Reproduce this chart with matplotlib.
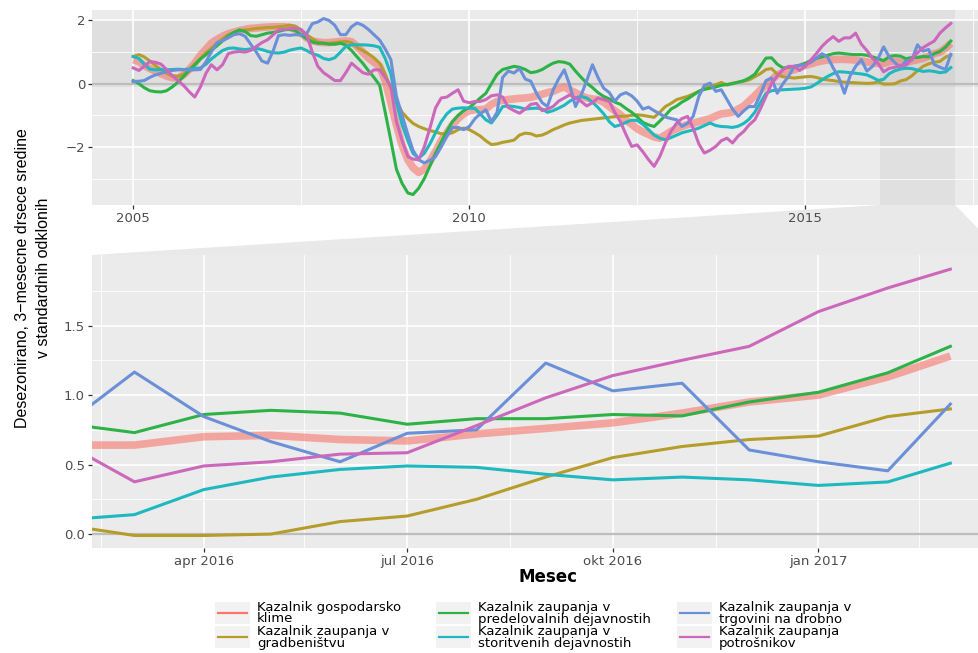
import matplotlib
matplotlib.use("Agg")
import matplotlib.pyplot as plt
import matplotlib.dates as mdates
import pandas as pd
from matplotlib import font_manager
from matplotlib.lines import Line2D
from matplotlib.patches import Polygon, Rectangle
from matplotlib.ticker import FixedLocator

# monthly, 3-month moving averages, in standard deviations (Jan 2005 - Mar 2017)
months = pd.date_range("2005-01-01", "2017-03-01", freq="MS")

series_labels = [
    "Kazalnik gospodarsko\nklime",
    "Kazalnik zaupanja v\ngradbeništvu",
    "Kazalnik zaupanja v\npredelovalnih dejavnostih",
    "Kazalnik zaupanja v\nstoritvenih dejavnostih",
    "Kazalnik zaupanja v\ntrgovini na drobno",
    "Kazalnik zaupanja\npotrošnikov",
]
series_colors = ["#F8766D", "#B59D2C", "#2DB247", "#1FB8BF", "#6B90D8", "#CC68BC"]

climate = [
    0.76, 0.70, 0.58, 0.48, 0.40, 0.32, 0.24, 0.19, 0.18, 0.28, 0.45, 0.65,
    0.90, 1.10, 1.28, 1.40, 1.50, 1.58, 1.63, 1.68, 1.72, 1.75, 1.76, 1.78,
    1.79, 1.80, 1.80, 1.80, 1.78, 1.72, 1.60, 1.45, 1.35, 1.32, 1.30, 1.30,
    1.32, 1.34, 1.35, 1.33, 1.18, 1.00, 0.82, 0.68, 0.55, 0.10, -0.60, -1.30,
    -1.95, -2.40, -2.65, -2.80, -2.70, -2.45, -2.15, -1.80, -1.55, -1.30, -1.10, -0.95,
    -0.85, -0.82, -0.82, -0.80, -0.65, -0.56, -0.52, -0.50, -0.48, -0.46, -0.45, -0.43,
    -0.38, -0.33, -0.28, -0.24, -0.16, -0.10, -0.20, -0.28, -0.38, -0.45, -0.48, -0.50,
    -0.58, -0.72, -0.85, -0.98, -1.15, -1.28, -1.42, -1.52, -1.60, -1.68, -1.72, -1.62,
    -1.50, -1.42, -1.35, -1.29, -1.25, -1.20, -1.15, -1.10, -1.02, -0.95, -0.93, -0.90,
    -0.80, -0.70, -0.55, -0.38, -0.20, -0.05, 0.12, 0.28, 0.36, 0.40, 0.44, 0.52,
    0.58, 0.63, 0.68, 0.72, 0.75, 0.76, 0.77, 0.77, 0.76, 0.75, 0.72, 0.69,
    0.66, 0.64, 0.64, 0.70, 0.71, 0.68, 0.67, 0.72, 0.76, 0.80, 0.87, 0.95,
    1.00, 1.13, 1.28,
]
construction = [
    0.86, 0.92, 0.85, 0.72, 0.58, 0.45, 0.33, 0.25, 0.23, 0.30, 0.45, 0.62,
    0.80, 0.98, 1.12, 1.28, 1.42, 1.55, 1.62, 1.68, 1.70, 1.72, 1.75, 1.76,
    1.78, 1.78, 1.80, 1.82, 1.85, 1.82, 1.70, 1.55, 1.42, 1.32, 1.28, 1.28,
    1.30, 1.32, 1.34, 1.30, 1.15, 1.05, 0.95, 0.82, 0.65, 0.30, -0.15, -0.55,
    -0.90, -1.10, -1.25, -1.35, -1.42, -1.48, -1.52, -1.58, -1.58, -1.55, -1.45, -1.40,
    -1.45, -1.55, -1.65, -1.80, -1.92, -1.90, -1.85, -1.82, -1.78, -1.62, -1.56, -1.58,
    -1.65, -1.62, -1.55, -1.45, -1.38, -1.30, -1.24, -1.20, -1.16, -1.14, -1.12, -1.10,
    -1.08, -1.06, -1.04, -1.03, -1.02, -1.00, -0.98, -1.00, -1.03, -1.06, -0.90, -0.72,
    -0.62, -0.50, -0.45, -0.40, -0.32, -0.24, -0.15, -0.08, -0.03, 0.04, -0.04, 0.02,
    0.05, 0.08, 0.12, 0.22, 0.32, 0.45, 0.48, 0.30, 0.22, 0.20, 0.18, 0.20,
    0.22, 0.23, 0.20, 0.15, 0.12, 0.10, 0.07, 0.05, 0.04, 0.03, 0.02, 0.01,
    0.02, 0.06, -0.01, -0.01, 0.00, 0.09, 0.13, 0.25, 0.41, 0.55, 0.63, 0.68,
    0.705, 0.845, 0.90,
]
manufacturing = [
    0.10, 0.00, -0.12, -0.22, -0.25, -0.26, -0.22, -0.10, 0.05, 0.23, 0.42, 0.60,
    0.78, 0.92, 1.05, 1.20, 1.35, 1.50, 1.62, 1.70, 1.65, 1.52, 1.50, 1.55,
    1.60, 1.62, 1.65, 1.70, 1.72, 1.68, 1.55, 1.42, 1.32, 1.28, 1.28, 1.25,
    1.25, 1.28, 1.22, 1.05, 0.85, 0.65, 0.42, 0.20, -0.05, -0.90, -1.80, -2.70,
    -3.15, -3.45, -3.50, -3.30, -3.00, -2.60, -2.20, -1.85, -1.50, -1.20, -1.00, -0.85,
    -0.75, -0.60, -0.45, -0.30, 0.00, 0.30, 0.45, 0.50, 0.55, 0.52, 0.45, 0.35,
    0.38, 0.45, 0.55, 0.65, 0.70, 0.68, 0.62, 0.40, 0.20, 0.02, -0.12, -0.28,
    -0.40, -0.48, -0.58, -0.65, -0.78, -0.90, -1.05, -1.22, -1.30, -1.35, -1.18, -1.00,
    -0.80, -0.70, -0.58, -0.48, -0.36, -0.24, -0.18, -0.14, -0.10, -0.05, -0.02, 0.00,
    0.05, 0.10, 0.18, 0.30, 0.55, 0.81, 0.82, 0.62, 0.50, 0.52, 0.55, 0.58,
    0.65, 0.74, 0.80, 0.85, 0.90, 0.95, 0.97, 0.95, 0.93, 0.92, 0.92, 0.90,
    0.85, 0.79, 0.73, 0.86, 0.89, 0.87, 0.79, 0.83, 0.83, 0.86, 0.85, 0.95,
    1.02, 1.16, 1.35,
]
services = [
    0.86, 0.80, 0.62, 0.46, 0.44, 0.45, 0.44, 0.45, 0.46, 0.45, 0.46, 0.48,
    0.50, 0.62, 0.78, 0.92, 1.05, 1.12, 1.13, 1.10, 1.08, 1.10, 1.12, 1.08,
    1.02, 0.98, 0.97, 1.00, 1.06, 1.10, 1.13, 1.05, 0.95, 0.90, 0.80, 0.76,
    0.82, 1.00, 1.18, 1.23, 1.23, 1.23, 1.22, 1.20, 1.15, 0.80, 0.30, -0.60,
    -1.30, -1.80, -2.20, -2.35, -2.20, -1.90, -1.55, -1.20, -0.95, -0.80, -0.77, -0.76,
    -0.77, -0.78, -0.95, -1.14, -1.24, -1.00, -0.72, -0.70, -0.72, -0.75, -0.80, -0.78,
    -0.77, -0.80, -0.90, -0.85, -0.77, -0.68, -0.55, -0.45, -0.40, -0.45, -0.58, -0.75,
    -0.95, -1.20, -1.35, -1.30, -1.22, -1.15, -1.16, -1.28, -1.45, -1.62, -1.72, -1.77,
    -1.70, -1.62, -1.55, -1.50, -1.46, -1.40, -1.32, -1.24, -1.32, -1.35, -1.36, -1.38,
    -1.34, -1.25, -1.12, -0.90, -0.60, -0.30, -0.22, -0.20, -0.19, -0.18, -0.17, -0.16,
    -0.14, -0.10, 0.00, 0.12, 0.23, 0.32, 0.38, 0.37, 0.35, 0.33, 0.31, 0.28,
    0.20, 0.105, 0.14, 0.32, 0.41, 0.465, 0.49, 0.48, 0.43, 0.39, 0.41, 0.39,
    0.35, 0.375, 0.51,
]
retail = [
    0.07, 0.08, 0.10, 0.20, 0.28, 0.33, 0.38, 0.42, 0.44, 0.44, 0.43, 0.44,
    0.45, 0.70, 1.00, 1.30, 1.36, 1.45, 1.55, 1.58, 1.50, 1.25, 1.00, 0.72,
    0.65, 1.05, 1.52, 1.55, 1.53, 1.55, 1.54, 1.58, 1.90, 1.95, 2.06, 2.00,
    1.85, 1.55, 1.55, 1.80, 1.92, 1.85, 1.72, 1.55, 1.38, 1.10, 0.76, -0.40,
    -1.00, -1.60, -2.10, -2.40, -2.50, -2.42, -2.30, -2.00, -1.66, -1.38, -1.38, -1.45,
    -1.35, -1.10, -0.95, -0.82, -1.20, -0.90, 0.20, 0.40, 0.34, 0.48, 0.15, 0.08,
    -0.30, -0.60, -0.72, -0.20, 0.15, 0.44, -0.05, -0.72, -0.35, 0.10, 0.60, 0.20,
    -0.14, -0.28, -0.55, -0.35, -0.28, -0.38, -0.55, -0.80, -0.74, -0.85, -0.95, -1.05,
    -1.10, -1.14, -1.35, -1.25, -1.03, -0.40, -0.05, 0.02, -0.24, -0.19, -0.50, -0.80,
    -1.03, -0.85, -0.72, -0.72, -0.35, 0.10, 0.18, -0.30, 0.00, 0.23, 0.55, 0.58,
    0.60, 0.68, 0.81, 0.95, 0.85, 0.50, 0.20, -0.30, 0.25, 0.55, 0.76, 0.40,
    0.55, 0.81, 1.165, 0.845, 0.665, 0.52, 0.725, 0.75, 1.23, 1.03, 1.085, 0.605,
    0.52, 0.455, 0.935,
]
consumer = [
    0.50, 0.42, 0.55, 0.70, 0.68, 0.62, 0.45, 0.25, 0.10, -0.05, -0.25, -0.42,
    -0.10, 0.34, 0.60, 0.44, 0.60, 0.95, 1.00, 1.02, 1.00, 1.05, 1.18, 1.30,
    1.39, 1.55, 1.70, 1.72, 1.74, 1.75, 1.72, 1.55, 1.00, 0.55, 0.35, 0.23,
    0.10, 0.10, 0.35, 0.65, 0.50, 0.35, 0.30, 0.44, 0.44, 0.20, -0.08, -1.20,
    -1.80, -2.30, -2.38, -2.40, -2.00, -1.40, -0.77, -0.45, -0.42, -0.30, -0.19, -0.55,
    -0.60, -0.56, -0.56, -0.50, -0.38, -0.35, -0.42, -0.75, -0.85, -0.93, -0.80, -0.65,
    -0.62, -0.85, -0.80, -0.72, -0.55, -0.45, -0.35, -0.45, -0.56, -0.70, -0.60, -0.45,
    -0.50, -0.56, -0.90, -1.20, -1.60, -1.98, -1.93, -2.15, -2.40, -2.61, -2.30, -1.87,
    -1.50, -1.24, -1.10, -1.03, -1.40, -1.90, -2.19, -2.10, -1.98, -1.80, -1.72, -1.87,
    -1.65, -1.50, -1.30, -1.14, -0.80, -0.40, 0.00, 0.25, 0.44, 0.55, 0.55, 0.42,
    0.55, 0.76, 0.95, 1.18, 1.35, 1.49, 1.34, 1.45, 1.45, 1.60, 1.25, 1.05,
    0.80, 0.634, 0.376, 0.49, 0.52, 0.575, 0.585, 0.78, 0.98, 1.14, 1.25, 1.35,
    1.60, 1.77, 1.905,
]
series = [climate, construction, manufacturing, services, retail, consumer]

top_ticks = pd.to_datetime(["2005-01-01", "2010-01-01", "2015-01-01"])
top_minor = pd.to_datetime(["2007-07-02", "2012-07-02", "2017-07-02"])
zoom_ticks = pd.to_datetime(["2016-04-01", "2016-07-01", "2016-10-01", "2017-01-01"])
zoom_tick_labels = ["apr 2016", "jul 2016", "okt 2016", "jan 2017"]
zoom_minor = pd.to_datetime(["2016-02-15", "2016-05-16", "2016-08-16", "2016-11-16", "2017-02-15"])

W, H = 979, 653
fig = plt.figure(figsize=(W / 100, H / 100), dpi=100)
fig.patch.set_facecolor("white")

font_names = {f.name for f in font_manager.fontManager.ttflist}
narrow = "Liberation Sans Narrow" if "Liberation Sans Narrow" in font_names else "Liberation Sans"


def px_axes(left, top, right, bottom):
    return fig.add_axes([left / W, 1 - bottom / H, (right - left) / W, (bottom - top) / H])


def style(ax):
    ax.set_facecolor("#EBEBEB")
    for s in ax.spines.values():
        s.set_visible(False)
    ax.set_axisbelow(True)
    ax.grid(which="major", color="white", linewidth=1.2)
    ax.grid(which="minor", color="white", linewidth=0.6)
    ax.tick_params(which="major", length=3, width=0.9, color="#333333",
                   labelcolor="#4D4D4D", labelsize=9.5, pad=2)
    ax.tick_params(which="minor", length=0)
    ax.axhline(0, color="#BDBDBD", linewidth=1.6, zorder=1.5)


def draw_series(ax):
    for i, (vals, col) in enumerate(zip(series, series_colors)):
        if i == 0:
            ax.plot(months, vals, color=col, linewidth=5.5, alpha=0.6,
                    solid_capstyle="butt", zorder=2)
        else:
            ax.plot(months, vals, color=col, linewidth=2.2, zorder=3)


zoom_start = pd.Timestamp("2016-02-11")
zoom_end = pd.Timestamp("2017-03-25")
zoom_ylim = (-0.1, 2.007)

# overview panel
ax_top = px_axes(92, 10, 990, 205)
style(ax_top)
ax_top.axhspan(*zoom_ylim, color="black", alpha=0.05, lw=0, zorder=0.1)
ax_top.axvspan(zoom_start, zoom_end, color="black", alpha=0.045, lw=0, zorder=0.1)
draw_series(ax_top)
ax_top.set_xlim(pd.Timestamp("2004-05-22"), pd.Timestamp("2017-09-30"))
ax_top.set_ylim(-3.83, 2.33)
ax_top.set_xticks(top_ticks)
ax_top.set_xticklabels(["2005", "2010", "2015"])
ax_top.xaxis.set_minor_locator(FixedLocator(mdates.date2num(top_minor)))
ax_top.set_yticks([-2, 0, 2])
ax_top.set_yticklabels(["\u22122", "0", "2"])
ax_top.yaxis.set_minor_locator(FixedLocator([-3, -1, 1]))

# zoomed panel
ax_bot = px_axes(92, 255, 1004, 548)
style(ax_bot)
draw_series(ax_bot)
ax_bot.set_xlim(zoom_start, zoom_end)
ax_bot.set_ylim(*zoom_ylim)
ax_bot.set_xticks(zoom_ticks)
ax_bot.set_xticklabels(zoom_tick_labels)
ax_bot.xaxis.set_minor_locator(FixedLocator(mdates.date2num(zoom_minor)))
ax_bot.set_yticks([0, 0.5, 1.0, 1.5])
ax_bot.set_yticklabels(["0.0", "0.5", "1.0", "1.5"])
ax_bot.yaxis.set_minor_locator(FixedLocator([0.25, 0.75, 1.25, 1.75]))

# trapezoid linking the zoom window to the lower panel
to_fig = fig.transFigure.inverted()
corners = [
    (ax_top, zoom_start, -3.83), (ax_top, zoom_end, -3.83),
    (ax_bot, zoom_end, zoom_ylim[1]), (ax_bot, zoom_start, zoom_ylim[1]),
]
pts = [to_fig.transform(a.transData.transform((mdates.date2num(x), y))) for a, x, y in corners]
fig.add_artist(Polygon(pts, closed=True, transform=fig.transFigure,
                       facecolor="#E9E9E9", edgecolor="none", zorder=-1))

fig.text(33 / W, 1 - 278 / H,
         "Desezonirano, 3\u2212mesecne drsece sredine\nv standardnih odklonih",
         rotation=90, ha="center", va="center", fontsize=11.5, family=narrow,
         linespacing=1.5, multialignment="center")
fig.text(548 / W, 1 - 577 / H, "Mesec", ha="center", va="center",
         fontsize=12, fontweight="bold")

# legend, three columns filled top to bottom
key_x = [215, 436, 677]
row_y = [613, 637]
for i, (label, col) in enumerate(zip(series_labels, series_colors)):
    cx, cy = key_x[i // 2], row_y[i % 2]
    fig.add_artist(Rectangle((cx / W, 1 - (cy + 11) / H), 35 / W, 22 / H,
                             transform=fig.transFigure, facecolor="#F2F2F2",
                             edgecolor="none"))
    fig.add_artist(Line2D([(cx + 3) / W, (cx + 32) / W], [1 - cy / H, 1 - cy / H],
                          transform=fig.transFigure, color=col, linewidth=1.6))
    fig.text((cx + 42) / W, 1 - cy / H, label, ha="left", va="center",
             fontsize=9.5, linespacing=0.9)

fig.savefig("out.png", dpi=100)
